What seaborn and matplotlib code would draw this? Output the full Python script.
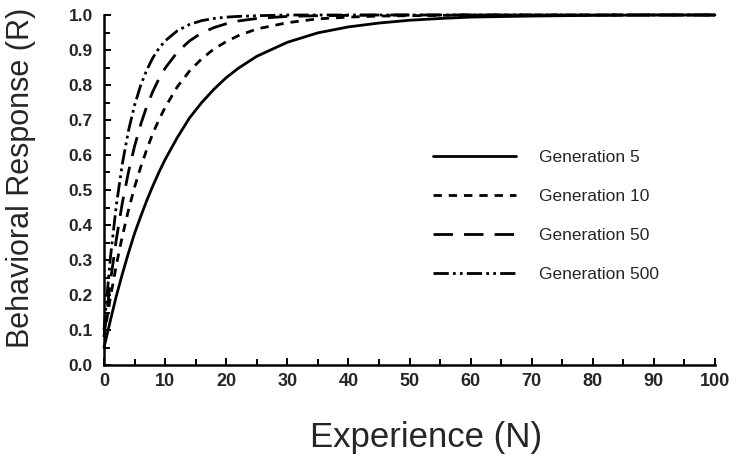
import matplotlib
matplotlib.use("Agg")
import matplotlib.pyplot as plt
from matplotlib.ticker import MultipleLocator
import pandas as pd
import seaborn as sns

# Experience (N) at which the response was sampled
experience = [0, 1, 2, 3, 4, 5, 6, 7, 8, 9, 10, 12, 14, 16, 18, 20, 22, 25,
              30, 35, 40, 45, 50, 55, 60, 70, 80, 90, 100]

# Behavioral response (R) for each generation
gen5 = [0.05, 0.124, 0.196, 0.26, 0.32, 0.376, 0.424, 0.47, 0.512, 0.551, 0.587,
        0.65, 0.706, 0.75, 0.788, 0.821, 0.848, 0.882, 0.922, 0.949, 0.966,
        0.977, 0.985, 0.99, 0.994, 0.997, 0.999, 1.0, 1.0]
gen10 = [0.08, 0.188, 0.284, 0.368, 0.442, 0.508, 0.565, 0.616, 0.662, 0.701, 0.736,
         0.795, 0.84, 0.875, 0.903, 0.924, 0.941, 0.96, 0.978, 0.989, 0.994,
         0.997, 0.998, 0.999, 1.0, 1.0, 1.0, 1.0, 1.0]
gen50 = [0.08, 0.232, 0.357, 0.463, 0.551, 0.625, 0.687, 0.739, 0.782, 0.818, 0.848,
         0.894, 0.926, 0.949, 0.964, 0.975, 0.983, 0.99, 0.996, 0.998, 0.999,
         1.0, 1.0, 1.0, 1.0, 1.0, 1.0, 1.0, 1.0]
gen500 = [0.10, 0.299, 0.454, 0.575, 0.669, 0.742, 0.799, 0.843, 0.878, 0.905, 0.926,
          0.955, 0.973, 0.984, 0.99, 0.994, 0.996, 0.998, 1.0, 1.0, 1.0,
          1.0, 1.0, 1.0, 1.0, 1.0, 1.0, 1.0, 1.0]

labels = ["Generation 5", "Generation 10", "Generation 50", "Generation 500"]
series = [gen5, gen10, gen50, gen500]

# Axis ticks and their labels
x_ticks = [0, 10, 20, 30, 40, 50, 60, 70, 80, 90, 100]
x_tick_labels = ["0", "10", "20", "30", "40", "50", "60", "70", "80", "90", "100"]
y_ticks = [0.0, 0.1, 0.2, 0.3, 0.4, 0.5, 0.6, 0.7, 0.8, 0.9, 1.0]
y_tick_labels = ["0.0", "0.1", "0.2", "0.3", "0.4", "0.5", "0.6", "0.7", "0.8", "0.9", "1.0"]

sns.set_style("ticks")
plt.rcParams["font.family"] = ["Liberation Sans", "DejaVu Sans"]
plt.rcParams["lines.scale_dashes"] = False

styles = ["-", (0, (6, 5)), (0, (14, 8)), (0, (11, 3, 2, 3, 2, 3))]

fig = plt.figure(figsize=(7.37, 4.58), dpi=100)
ax = fig.add_axes([104 / 737, 1 - 365 / 458, (715 - 104) / 737, (365 - 15) / 458])

for lab, vals, ls in zip(labels, series, styles):
    df = pd.DataFrame({"N": experience, "R": vals})
    sns.lineplot(data=df, x="N", y="R", ax=ax, color="black", linewidth=2.0,
                 linestyle=ls, label=lab, clip_on=False)

ax.set_xlim(0, 100)
ax.set_ylim(0, 1.0)
ax.set_xticks(x_ticks)
ax.set_xticklabels(x_tick_labels, fontweight="bold", fontsize=13)
ax.set_yticks(y_ticks)
ax.set_yticklabels(y_tick_labels, fontweight="bold", fontsize=12.5)
ax.xaxis.set_minor_locator(MultipleLocator(5))
ax.yaxis.set_minor_locator(MultipleLocator(0.05))
ax.tick_params(which="both", direction="in", width=1.4, color="black")
ax.tick_params(which="major", length=5)
ax.tick_params(which="minor", length=4)
ax.tick_params(axis="x", pad=6)
ax.tick_params(axis="y", pad=8)

for side in ["top", "right"]:
    ax.spines[side].set_visible(False)
for side in ["left", "bottom"]:
    ax.spines[side].set_linewidth(1.8)
    ax.spines[side].set_color("black")

ax.set_xlabel("")
ax.set_ylabel("")
fig.text(426 / 737, 1 - 438 / 458, "Experience (N)", fontsize=25,
         ha="center", va="center")
fig.text(21 / 737, 1 - 178 / 458, "Behavioral Response (R)", fontsize=22,
         rotation=90, ha="center", va="center")

leg = ax.legend(loc="upper left", bbox_to_anchor=(433 / 737, 1 - 150 / 458),
                bbox_transform=fig.transFigure, frameon=False, fontsize=12.5,
                handlelength=4.8, handletextpad=1.3, labelspacing=1.38,
                borderpad=0, borderaxespad=0)

fig.savefig("out.png", dpi=100)
